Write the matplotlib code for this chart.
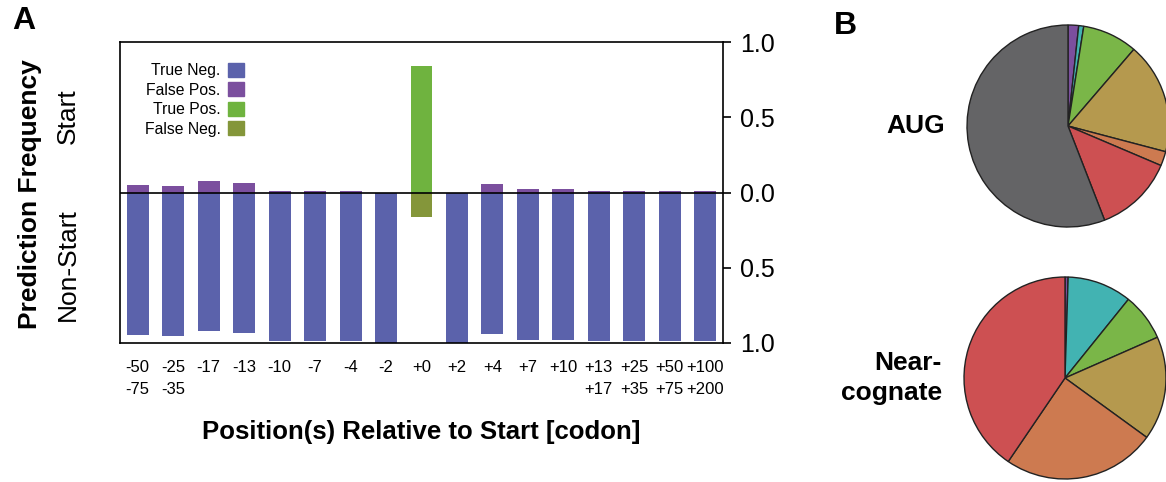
import matplotlib
matplotlib.use('Agg')
import matplotlib.pyplot as plt
from matplotlib.patches import Patch
import numpy as np

plt.rcParams['font.family'] = ['Liberation Sans', 'DejaVu Sans']

# prediction frequencies per codon position
positions = ['-50\n-75', '-25\n-35', '-17', '-13', '-10', '-7', '-4', '-2', '+0',
             '+2', '+4', '+7', '+10', '+13\n+17', '+25\n+35', '+50\n+75', '+100\n+200']
false_pos = [0.05, 0.045, 0.078, 0.065, 0.01, 0.01, 0.01, 0.0, 0.0,
             0.0, 0.058, 0.02, 0.02, 0.01, 0.01, 0.01, 0.01]
true_neg = [0.95, 0.955, 0.922, 0.935, 0.99, 0.99, 0.99, 1.0, 0.0,
            1.0, 0.942, 0.98, 0.98, 0.99, 0.99, 0.99, 0.99]
true_pos = [0, 0, 0, 0, 0, 0, 0, 0, 0.84, 0, 0, 0, 0, 0, 0, 0, 0]
false_neg = [0, 0, 0, 0, 0, 0, 0, 0, 0.16, 0, 0, 0, 0, 0, 0, 0, 0]

# pie fractions (%), clockwise from top
pie_colors = ['#7b4f9e', '#42b3b2', '#7ab648', '#b5994e', '#cd7a50', '#cd5052', '#646466']
aug_frac = [1.7, 0.8, 8.8, 17.8, 2.3, 12.7, 55.9]
near_frac = [0.5, 10.3, 7.6, 16.6, 24.5, 40.5, 0.0]

c_tn, c_fp, c_tp, c_fn = '#5b62ab', '#7b4f9e', '#6fb33f', '#84963a'

W, H = 1166, 482
fig = plt.figure(figsize=(W / 100, H / 100), dpi=100)

ax = fig.add_axes([120 / W, (H - 343) / H, 603 / W, 301 / H])
x = np.arange(len(positions))
bw = 0.62
# non-start predictions point downwards
ax.bar(x, np.negative(true_neg), bw, color=c_tn)
ax.bar(x, false_pos, bw, color=c_fp)
ax.bar(x, true_pos, bw, color=c_tp)
ax.bar(x, np.negative(false_neg), bw, color=c_fn)
ax.axhline(0, color='black', lw=1.2, zorder=3)

ax.set_xlim(-0.5, len(positions) - 0.5)
ax.set_ylim(-1, 1)
ax.set_xticks(x)
ax.set_xticklabels(positions, fontsize=12, va='top')
for t in ax.get_xticklabels():
    t.set_linespacing(1.6)
ax.tick_params(axis='x', length=0, pad=12)
ax.yaxis.tick_right()
ax.set_yticks([-1, -0.5, 0, 0.5, 1])
ax.set_yticklabels(['1.0', '0.5', '0.0', '0.5', '1.0'], fontsize=18)
ax.tick_params(axis='y', direction='out', length=6, width=1.2, pad=6)
for s in ax.spines.values():
    s.set_linewidth(1.2)

ax.set_xlabel('Position(s) Relative to Start [codon]', fontsize=18.5,
              fontweight='bold', labelpad=17)

handles = [Patch(color=c) for c in (c_tn, c_fp, c_tp, c_fn)]
ax.legend(handles, ['True Neg.', 'False Pos.', 'True Pos.', 'False Neg.'],
          markerfirst=False, frameon=False, fontsize=11.3, loc='upper right',
          bbox_to_anchor=((252 - 120) / 603, (343 - 55) / 301), borderpad=0,
          handlelength=1.0, handleheight=1.0, handletextpad=0.5,
          labelspacing=0.26)

fig.text(30 / W, 1 - 194 / H, 'Prediction Frequency', rotation=90, fontsize=19,
         fontweight='bold', ha='center', va='center')
fig.text(68 / W, 1 - 116 / H, 'Start', rotation=90, fontsize=19,
         ha='center', va='center')
fig.text(68 / W, 1 - 265 / H, 'Non-Start', rotation=90, fontsize=19,
         ha='center', va='center')
fig.text(12 / W, 1 - 21 / H, 'A', fontsize=23, fontweight='bold', va='center')
fig.text(834 / W, 1 - 26 / H, 'B', fontsize=23, fontweight='bold', va='center')


def draw_pie(cx, cy, r, fracs, label):
    pax = fig.add_axes([(cx - r) / W, (H - cy - r) / H, 2 * r / W, 2 * r / H])
    vals = [f for f in fracs if f > 0]
    cols = [c for f, c in zip(fracs, pie_colors) if f > 0]
    pax.pie(vals, colors=cols, startangle=90, counterclock=False,
            wedgeprops=dict(edgecolor='#222222', linewidth=1.0))
    pax.set_xlim(-1.01, 1.01)
    pax.set_ylim(-1.01, 1.01)
    pax.text(-1.22, 0, label, fontsize=19, fontweight='bold', ha='right',
             va='center', linespacing=1.3)


draw_pie(1068, 126, 102, aug_frac, 'AUG')
draw_pie(1065, 378, 102, near_frac, 'Near-\ncognate')

fig.savefig('out.png', dpi=100)
